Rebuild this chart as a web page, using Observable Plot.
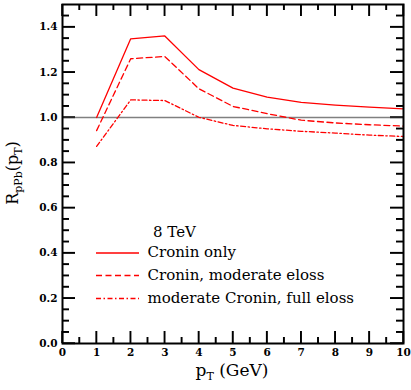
<!DOCTYPE html>
<html><head><meta charset="utf-8">
<script src="https://cdn.jsdelivr.net/npm/d3@7"></script>
<script src="https://cdn.jsdelivr.net/npm/@observablehq/plot@0.6"></script>
<style>body{margin:0;background:#fff}#chart svg{display:block}</style>
</head><body><div id="chart"></div>
<script>
// ---- data ----
const pt = [1, 2, 3, 4, 5, 6, 7, 8, 9, 10];
const croninOnly = [1.000, 1.348, 1.361, 1.212, 1.130, 1.090, 1.067, 1.055, 1.046, 1.038];
const croninModerateEloss = [0.942, 1.260, 1.270, 1.127, 1.049, 1.017, 0.988, 0.976, 0.968, 0.962];
const moderateCroninFullEloss = [0.872, 1.078, 1.075, 1.001, 0.965, 0.950, 0.939, 0.931, 0.922, 0.916];
const seriesNames = ["Cronin only", "Cronin, moderate eloss", "moderate Cronin, full eloss"];
const energyLabel = "8 TeV";
const referenceLine = [1.0];
const xMajorTicks = [0, 1, 2, 3, 4, 5, 6, 7, 8, 9, 10];
const xMinorTicks = [0.5, 1.5, 2.5, 3.5, 4.5, 5.5, 6.5, 7.5, 8.5, 9.5];
const yMajorTicks = [0.0, 0.2, 0.4, 0.6, 0.8, 1.0, 1.2, 1.4];
const yMinorTicks = [0.05, 0.1, 0.15, 0.25, 0.3, 0.35, 0.45, 0.5, 0.55, 0.65, 0.7, 0.75, 0.85, 0.9, 0.95,
  1.05, 1.1, 1.15, 1.25, 1.3, 1.35, 1.45];

// ---- styles ----
const dashes = ["none", "6,3.5", "5,2.5,1.5,2.5"];
const red = "#ff0000";
const seriesValues = [croninOnly, croninModerateEloss, moderateCroninFullEloss];
const rows = seriesNames.flatMap((s, i) => pt.map((x, j) => ({series: s, x, y: seriesValues[i][j]})));

const serif = "DejaVu Serif";
const W = 411, H = 390, mL = 62, mR = 8, mT = 4, mB = 47;
const fw = W - mL - mR, fh = H - mT - mB;
const tk = {stroke: "black", strokeWidth: 1.4};
const xTicks = (ticks, len) => [
  Plot.tickX(ticks, {x: d => d, insetTop: fh - len, ...tk}),
  Plot.tickX(ticks, {x: d => d, insetBottom: fh - len, ...tk})
];
const yTicks = (ticks, len) => [
  Plot.tickY(ticks, {y: d => d, insetRight: fw - len, ...tk}),
  Plot.tickY(ticks, {y: d => d, insetLeft: fw - len, ...tk})
];
const chart = Plot.plot({
  width: W, height: H,
  marginLeft: mL, marginRight: mR, marginTop: mT, marginBottom: mB,
  style: {fontFamily: serif, background: "#fff", color: "black"},
  x: {domain: [0, 10], axis: null},
  y: {domain: [0, 1.5], axis: null},
  marks: [
    ...xTicks(xMajorTicks, 12),
    ...xTicks(xMinorTicks, 6),
    ...yTicks(yMajorTicks, 13),
    ...yTicks(yMinorTicks, 7),
    Plot.ruleY(referenceLine, {stroke: "#808080", strokeWidth: 1.5}),
    ...seriesNames.map((s, i) => Plot.line(rows.filter(d => d.series === s), {
      x: "x", y: "y", stroke: red, strokeWidth: 1.3, strokeDasharray: dashes[i]
    })),
    Plot.axisX(xMajorTicks, {anchor: "bottom", tickSize: 0, tickPadding: 5, label: null,
      tickFormat: d3.format("d"), fontSize: 10.5, fontWeight: "bold"}),
    Plot.axisY(yMajorTicks, {anchor: "left", tickSize: 0, tickPadding: 5, label: null,
      tickFormat: d3.format(".1f"), fontSize: 10.5, fontWeight: "bold"}),
    Plot.frame({stroke: "black", strokeWidth: 2})
  ]
});
document.getElementById("chart").append(chart);

const svg = d3.select(chart);
// ---- same inward ticks again as filled slivers, placed with Plot's scales ----
const sx = chart.scale("x"), sy = chart.scale("y");
const X = v => sx.apply(v), Y = v => sy.apply(v);
const x0 = mL, x1 = W - mR, y0 = mT, y1 = H - mB, tw = 1.4;
const tg = svg.append("g").attr("fill", "#000000");
const addX = (ticks, len) => ticks.forEach(v => {
  const x = X(v) - tw / 2;
  tg.append("rect").attr("x", x).attr("y", y1 - len).attr("width", tw).attr("height", len).attr("fill", "#000000");
  tg.append("rect").attr("x", x).attr("y", y0).attr("width", tw).attr("height", len).attr("fill", "#000000");
});
const addY = (ticks, len) => ticks.forEach(v => {
  const y = Y(v) - tw / 2;
  tg.append("rect").attr("x", x0).attr("y", y).attr("width", len).attr("height", tw).attr("fill", "#000000");
  tg.append("rect").attr("x", x1 - len).attr("y", y).attr("width", len).attr("height", tw).attr("fill", "#000000");
});
addX(xMajorTicks, 12); addX(xMinorTicks, 6);
addY(yMajorTicks, 13); addY(yMinorTicks, 7);

// ---- axis titles with subscripts, legend ----
const xl = svg.append("text").attr("x", 232).attr("y", 376).attr("text-anchor", "middle")
  .attr("font-family", serif).attr("font-size", 17).attr("fill", "black");
xl.append("tspan").text("p");
xl.append("tspan").attr("dy", 4).attr("font-size", 11).text("T");
xl.append("tspan").attr("dy", -4).text(" (GeV)");

const yl = svg.append("text").attr("transform", "translate(18,173) rotate(-90)").attr("text-anchor", "middle")
  .attr("font-family", serif).attr("font-size", 16).attr("fill", "black");
yl.append("tspan").text("R");
yl.append("tspan").attr("dy", 4).attr("font-size", 11).text("pPb");
yl.append("tspan").attr("dy", -4).text("(p");
yl.append("tspan").attr("dy", 4).attr("font-size", 11).text("T");
yl.append("tspan").attr("dy", -4).text(")");

const lg = svg.append("g").attr("font-family", serif).attr("font-size", 15).attr("fill", "black")
  .attr("text-anchor", "start");
lg.append("text").attr("x", 153).attr("y", 232.5).attr("dominant-baseline", "middle").text(energyLabel);
const legendY = [253, 275.5, 298.5];
seriesNames.forEach((s, i) => {
  lg.append("line").attr("x1", 96).attr("x2", 139).attr("y1", legendY[i]).attr("y2", legendY[i])
    .attr("stroke", red).attr("stroke-width", 1.3).attr("stroke-dasharray", dashes[i]);
  lg.append("text").attr("x", 147.5).attr("y", legendY[i]).attr("dominant-baseline", "middle").text(s);
});
</script>
</body></html>
